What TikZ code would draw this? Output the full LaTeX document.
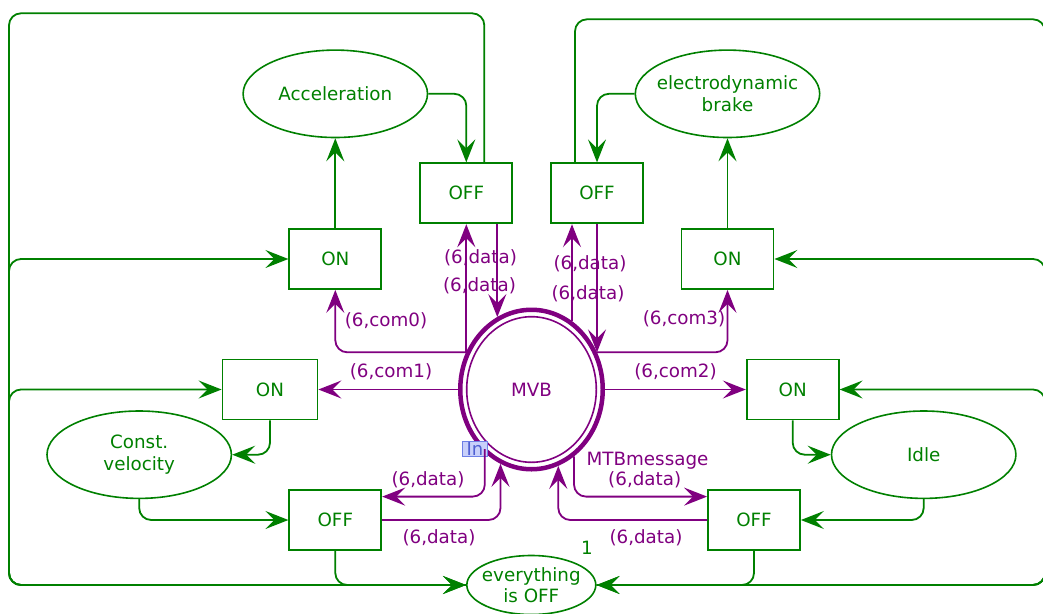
\documentclass[tikz,border=0pt]{standalone}
\usepackage{fontspec}
\setmainfont{DejaVu Sans}
\usetikzlibrary{arrows.meta,shapes.geometric}
\definecolor{cpngreen}{RGB}{0,128,0}
\definecolor{cpnpurple}{RGB}{128,0,128}
\definecolor{tagfill}{RGB}{200,208,250}
\definecolor{tagdraw}{RGB}{110,128,230}
\definecolor{tagtext}{RGB}{80,96,210}
\begin{document}
\begin{tikzpicture}[x=1pt,y=-1pt,
  font=\fontsize{18.3}{21.5}\selectfont,
  arctip/.style={-{Stealth[length=23pt 0 0,width=18pt 0 0,inset=9pt 0]}},
  trans/.style={draw=cpngreen, line width=1.8pt, text=cpngreen,
    minimum width=92pt, minimum height=60pt, inner sep=0pt},
  place/.style={ellipse, draw=cpngreen, line width=1.6pt,
    minimum width=184.4pt, minimum height=87.4pt, inner sep=0pt},
  ptext/.style={label={[text=cpngreen,align=center,inner sep=0pt]center:#1}},
  garc/.style={draw=cpngreen, line width=1.8pt, arctip, rounded corners=12pt},
  parc/.style={draw=cpnpurple, line width=1.8pt, arctip, rounded corners=12pt},
  lbl/.style={text=cpnpurple, inner sep=0pt},
]
\useasboundingbox (0,0) rectangle (1043,613);

% places
\node[place, ptext={Acceleration}] (acc) at (335.3,93.8) {};
\node[place, ptext={electrodynamic\\brake}] (ebr) at (727.5,93.8) {};
\node[place, ptext={Const.\\velocity}] (cv) at (139.2,454.7) {};
\node[place, ptext={Idle}] (idle) at (923.7,454.7) {};
\node[place, minimum width=129pt, minimum height=59pt,
      ptext={everything\\is OFF}] (eoff) at (531.3,585) {};
\node[text=cpngreen, inner sep=0pt] (mark) at (587,548) {1};

% the bus place (port)
\node[ellipse, draw=cpnpurple, line width=4.5pt, minimum width=142.5pt,
      minimum height=159.5pt, inner sep=0pt,
      label={[text=cpnpurple,inner sep=0pt]center:MVB}] (mvb) at (531.5,389.5) {};
\draw[cpnpurple, line width=1.6pt] (mvb.center) ellipse [x radius=64.8pt, y radius=72.8pt];

% transitions
\node[trans] (offtl) at (466.3,193.3) {OFF};
\node[trans] (ontl) at (335.3,259) {ON};
\node[trans] (offtr) at (597,193.3) {OFF};
\node[trans] (ontr) at (727.5,259) {ON};
\node[trans, minimum width=95pt] (onl) at (270,389.5) {ON};
\node[trans] (offbl) at (335.3,520) {OFF};
\node[trans] (onr) at (792.7,389.5) {ON};
\node[trans] (offbr) at (754,520) {OFF};

% outer loop corners
\coordinate (lt) at (9,13.3);
\coordinate (rt) at (1045,19.3);

% green arcs
\draw[garc] (acc.east) -| (offtl.north);
\draw[garc] (ontl.north) -- (acc.south);
\draw[garc] (ebr.west) -| (offtr.north);
\draw[garc] (ontr.north) -- (ebr.south);
\draw[garc] (onl.south) |- (cv.east);
\draw[garc] (cv.south) |- (offbl.west);
\draw[garc] (offbl.south) |- (eoff.west);
\draw[garc] (onr.south) |- (idle.west);
\draw[garc] (idle.south) |- (offbr.east);
\draw[garc] (offbr.south) |- (eoff.east);
\draw[garc] ([xshift=18pt]offtl.north) |- (lt) |- (eoff.west);
\draw[garc] (eoff.west) -| (lt |- ontl.west) -- (ontl.west);
\draw[garc] (eoff.west) -| (lt |- onl.west) -- (onl.west);
\draw[garc] ([xshift=-22pt]offtr.north) |- (rt) |- (eoff.east);
\draw[garc] (eoff.east) -| (rt |- ontr.east) -- (ontr.east);
\draw[garc] (eoff.east) -| (rt |- onr.east) -- (onr.east);

% port tag
\node[draw=tagdraw, fill=tagfill, text=tagtext, line width=1pt,
      font=\fontsize{18}{18}\selectfont, inner xsep=4pt, inner ysep=1pt,
      text height=13pt, text depth=0pt] (intag) at (475,448.5) {In};

% points on the bus ring
\coordinate (mA) at (466.3,352.3);
\coordinate (mB) at (497.3,317.1);
\coordinate (mC) at (572,321);
\coordinate (mD) at (597,352.3);
\coordinate (mE) at (484.8,449);
\coordinate (mF) at (500.5,463.8);
\coordinate (mG) at (574,456.4);
\coordinate (mH) at (558.3,465.9);

% purple arcs
\draw[parc] (mA) -- (mA |- offtl.south);
\draw[parc] (offtl.south -| mB) -- (mB);
\draw[parc] (mC) -- (mC |- offtr.south);
\draw[parc] (offtr.south) -- (mD);
\draw[parc] (mA) -| (ontl.south);
\draw[parc] (mD) -| (ontr.south);
\draw[parc] (mvb.west) -- (onl.east);
\draw[parc] (mvb.east) -- (onr.west);
\draw[parc] (mE) |- ([yshift=-7.5pt]offbl.north east);
\draw[parc] (offbl.east) -| (mF);
\draw[parc] (mG) |- ([yshift=-7.5pt]offbr.north west);
\draw[parc] (offbr.west) -| (mH);

% arc inscriptions
\node[lbl] (l1) at (480.5,258) {(6,data)};
\node[lbl] (l2) at (479.5,285.5) {(6,data)};
\node[lbl] (l3) at (590,264) {(6,data)};
\node[lbl] (l4) at (588,294) {(6,data)};
\node[lbl] (l5) at (386,321) {(6,com0)};
\node[lbl] (l6) at (391,372) {(6,com1)};
\node[lbl] (l7) at (684,319) {(6,com3)};
\node[lbl] (l8) at (675.5,372) {(6,com2)};
\node[lbl] (l9) at (428,480) {(6,data)};
\node[lbl] (l10) at (439,538) {(6,data)};
\node[lbl] (l11) at (647.5,461) {MTBmessage};
\node[lbl] (l12) at (644.7,479.5) {(6,data)};
\node[lbl] (l13) at (646,538) {(6,data)};
\end{tikzpicture}
\end{document}
